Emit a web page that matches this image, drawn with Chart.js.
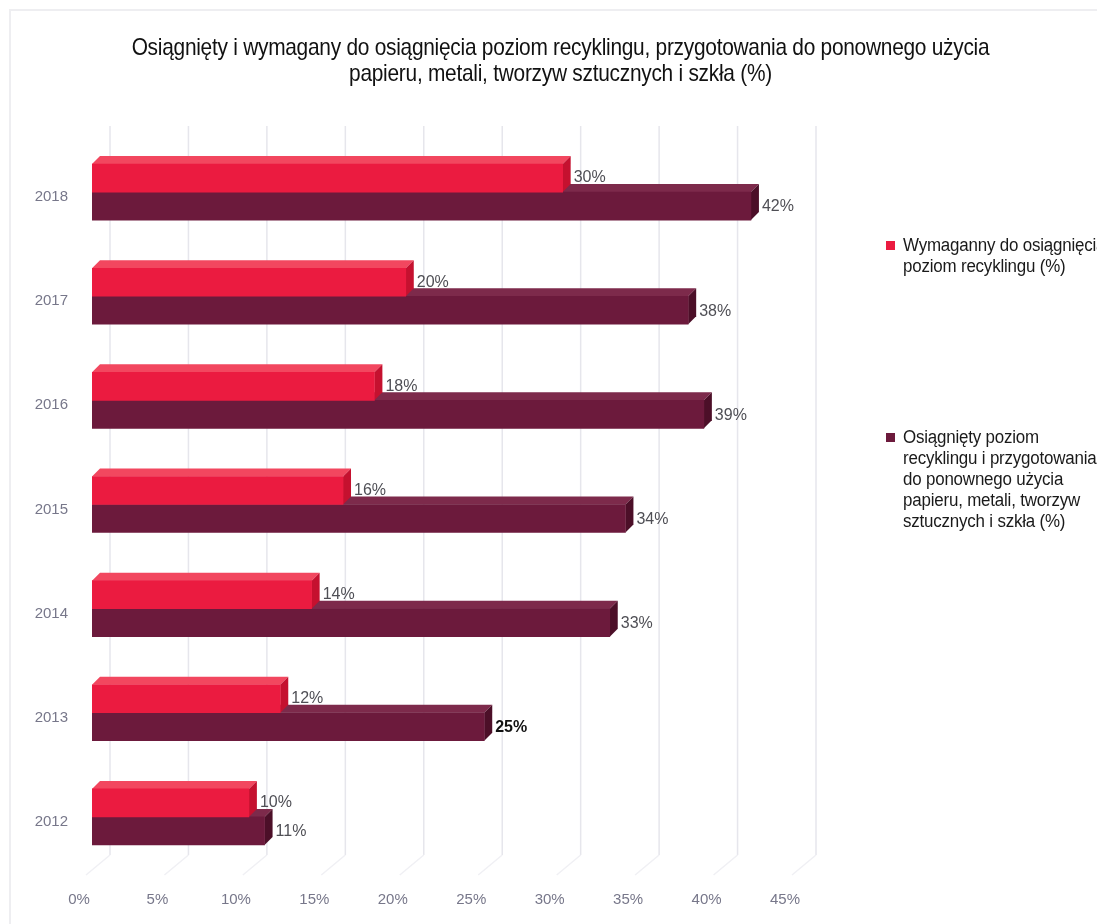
<!DOCTYPE html>
<html lang="pl">
<head>
<meta charset="utf-8">
<title>Poziom recyklingu</title>
<script src="https://cdn.jsdelivr.net/npm/chart.js@4.4.1/dist/chart.umd.min.js"></script>
<style>
  html, body { margin: 0; padding: 0; background: #fff; overflow: hidden; }
  #wrap { position: relative; width: 1097px; height: 924px; overflow: hidden; background: #fff; }
  #frame { position: absolute; left: 9px; top: 9px; width: 1200px; height: 1000px; border: 2px solid #eeeef1; box-sizing: border-box; }
  #c { position: absolute; left: 0; top: 0; }
  #title {
    position: absolute; left: 12px; top: 34px; width: 1097px;
    text-align: center; font-family: 'Liberation Sans', Arial, sans-serif;
    font-size: 24px; line-height: 26px; color: #111; letter-spacing: -0.3px;
    transform: scaleX(0.87); transform-origin: center top;
  }
  .legend-item {
    position: absolute; left: 886px;
    font-family: 'Liberation Sans', Arial, sans-serif; font-size: 18px;
    line-height: 21px; color: #1a1a1a; letter-spacing: -0.2px; white-space: nowrap;
  }
  .legend-item i { position: absolute; left: 0; top: 6px; width: 9px; height: 9px; }
  .legend-item span { display: block; margin-left: 17px; transform: scaleX(0.94); transform-origin: left top; }
</style>
</head>
<body>
<div id="wrap">
  <div id="frame"></div>
  <canvas id="c" width="1097" height="924"></canvas>
  <div id="title"></div>
  <div id="legend"></div>
</div>
<script>
// Data
const titleLines = [
  'Osiągnięty i wymagany do osiągnięcia poziom recyklingu, przygotowania do ponownego użycia',
  'papieru, metali, tworzyw sztucznych i szkła (%)'
]
const years = ['2018', '2017', '2016', '2015', '2014', '2013', '2012']
const requiredLevel = [30, 20, 18, 16, 14, 12, 10]
const achievedLevel = [42, 38, 39, 34, 33, 25, 11]
const xTicks = [0, 5, 10, 15, 20, 25, 30, 35, 40, 45]
const requiredName = ['Wymaganny do osiągnięcia', 'poziom recyklingu (%)']
const achievedName = ['Osiągnięty poziom', 'recyklingu i przygotowania', 'do ponownego użycia', 'papieru, metali, tworzyw', 'sztucznych i szkła (%)']

// Styles
const colors = {
  required: { front: '#eb1b40', top: '#f2475f', side: '#c5112f' },
  achieved: { front: '#6c1a3c', top: '#7d2a4b', side: '#4c0f28' }
}
const depth = 8
const wallShift = 18
const boldLabel = { dataset: 1, index: 5 }

document.getElementById('title').innerHTML = titleLines.join('<br>')

const legendItems = [
  { lines: requiredName, color: colors.required.front, top: 235 },
  { lines: achievedName, color: colors.achieved.front, top: 427 }
]
document.getElementById('legend').innerHTML = legendItems.map(item =>
  `<div class="legend-item" style="top:${item.top}px"><i style="background:${item.color}"></i><span>${item.lines.join('<br>')}</span></div>`
).join('')

// 3D look: back wall grid, top and side faces of each bar
const bar3d = {
  id: 'bar3d',
  beforeDatasetsDraw(chart) {
    const { ctx, chartArea, scales: { x } } = chart
    ctx.save()
    xTicks.forEach(v => {
      const gx = x.getPixelForValue(v) + wallShift
      ctx.strokeStyle = '#e6e6ec'
      ctx.lineWidth = 1.5
      ctx.beginPath()
      ctx.moveTo(gx, chartArea.top - 14)
      ctx.lineTo(gx, chartArea.bottom - 14)
      ctx.stroke()
      ctx.strokeStyle = '#f0f0f4'
      ctx.beginPath()
      ctx.moveTo(gx, chartArea.bottom - 14)
      ctx.lineTo(gx - 24, chartArea.bottom + 6)
      ctx.stroke()
    })

    const order = [[1, colors.achieved], [0, colors.required]]
    order.forEach(([i, c]) => {
      chart.getDatasetMeta(i).data.forEach(bar => {
        const { x: x1, y, base, height } = bar.getProps(['x', 'y', 'base', 'height'], true)
        const top = y - height / 2
        const bottom = y + height / 2
        ctx.fillStyle = c.top
        ctx.beginPath()
        ctx.moveTo(base, top)
        ctx.lineTo(base + depth, top - depth)
        ctx.lineTo(x1 + depth, top - depth)
        ctx.lineTo(x1, top)
        ctx.closePath()
        ctx.fill()
        ctx.fillStyle = c.side
        ctx.beginPath()
        ctx.moveTo(x1, top)
        ctx.lineTo(x1 + depth, top - depth)
        ctx.lineTo(x1 + depth, bottom - depth)
        ctx.lineTo(x1, bottom)
        ctx.closePath()
        ctx.fill()
      })
    })
    ctx.restore()
  },
  afterDatasetsDraw(chart) {
    const { ctx } = chart
    ctx.save()
    ctx.textAlign = 'left'
    ctx.textBaseline = 'middle'
    chart.data.datasets.forEach((ds, i) => {
      chart.getDatasetMeta(i).data.forEach((bar, j) => {
        const { x: x1, y } = bar.getProps(['x', 'y'], true)
        const bold = boldLabel.dataset === i && boldLabel.index === j
        ctx.font = (bold ? 'bold ' : '') + '16px "Liberation Sans", Arial, sans-serif'
        ctx.fillStyle = bold ? '#111' : '#4f4f55'
        ctx.fillText(ds.data[j] + '%', x1 + depth + 3, y + (i === 0 ? 0 : 1))
      })
    })
    ctx.restore()
  }
}

new Chart(document.getElementById('c'), {
  type: 'bar',
  data: {
    labels: years,
    datasets: [
      {
        label: requiredName.join(' '),
        data: requiredLevel,
        backgroundColor: colors.required.front,
        barThickness: 28
      },
      {
        label: achievedName.join(' '),
        data: achievedLevel,
        backgroundColor: colors.achieved.front,
        barThickness: 28
      }
    ]
  },
  options: {
    indexAxis: 'y',
    responsive: false,
    animation: false,
    layout: { padding: { top: 140, left: 0, right: 299, bottom: 15 } },
    plugins: {
      legend: { display: false },
      tooltip: { enabled: false }
    },
    scales: {
      x: {
        min: 0,
        max: 45,
        afterFit: scale => { scale.height = 40 },
        afterBuildTicks: scale => { scale.ticks = xTicks.map(v => ({ value: v })) },
        grid: { display: false, drawTicks: false },
        border: { display: false },
        ticks: {
          padding: 22,
          labelOffset: -13,
          color: '#77778a',
          font: { family: '"Liberation Sans", Arial, sans-serif', size: 15 },
          callback: v => v + '%'
        }
      },
      y: {
        afterFit: scale => { scale.width = 92 },
        grid: { display: false, drawTicks: false },
        border: { display: false },
        ticks: {
          padding: 24,
          labelOffset: 5,
          color: '#77778a',
          font: { family: '"Liberation Sans", Arial, sans-serif', size: 15 }
        }
      }
    }
  },
  plugins: [bar3d]
})
</script>
</body>
</html>
